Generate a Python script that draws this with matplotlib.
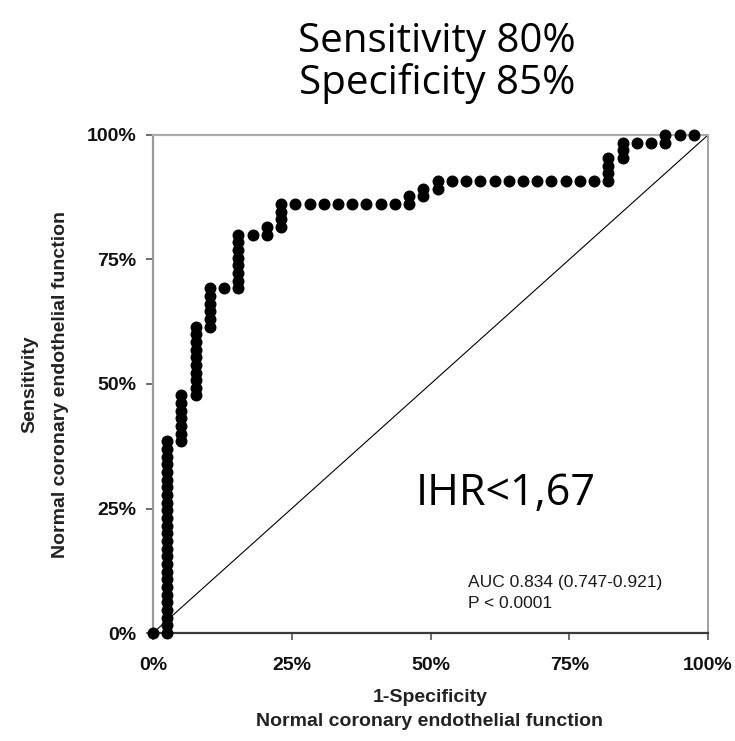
import matplotlib
matplotlib.use("Agg")
import matplotlib.pyplot as plt
import numpy as np

# ---- data (counts) ----
N_NEG = 39   # negatives (false-positive steps)
N_POS = 65   # positives (true-positive steps)

fp_count = [0,
            1, 1, 1, 1, 1, 1, 1, 1, 1, 1, 1, 1, 1, 1, 1, 1, 1, 1, 1, 1, 1, 1, 1, 1, 1, 1,
            2, 2, 2, 2, 2, 2, 2,
            3, 3, 3, 3, 3, 3, 3, 3, 3, 3,
            4, 4, 4, 4, 4, 4,
            5,
            6, 6, 6, 6, 6, 6, 6, 6,
            7,
            8, 8,
            9, 9, 9, 9,
            10, 11, 12, 13, 14, 15, 16, 17,
            18, 18,
            19, 19,
            20, 20,
            21, 22, 23, 24, 25, 26, 27, 28, 29, 30, 31,
            32, 32, 32, 32,
            33, 33, 33,
            34, 35,
            36, 36,
            37, 38]

tp_count = [0,
            0, 1, 2, 3, 4, 5, 6, 7, 8, 9, 10, 11, 12, 13, 14, 15, 16, 17, 18, 19, 20, 21, 22, 23, 24, 25,
            25, 26, 27, 28, 29, 30, 31,
            31, 32, 33, 34, 35, 36, 37, 38, 39, 40,
            40, 41, 42, 43, 44, 45,
            45,
            45, 46, 47, 48, 49, 50, 51, 52,
            52,
            52, 53,
            53, 54, 55, 56,
            56, 56, 56, 56, 56, 56, 56, 56,
            56, 57,
            57, 58,
            58, 59,
            59, 59, 59, 59, 59, 59, 59, 59, 59, 59, 59,
            59, 60, 61, 62,
            62, 63, 64,
            64, 64,
            64, 65,
            65, 65]

x_ticks = [0, 25, 50, 75, 100]
x_ticklabels = ["0%", "25%", "50%", "75%", "100%"]
y_ticks = [0, 25, 50, 75, 100]
y_ticklabels = ["0%", "25%", "50%", "75%", "100%"]

title_lines = ["Sensitivity 80%", "Specificity 85%"]
cutoff_text = "IHR<1,67"
auc_text = "AUC 0.834 (0.747-0.921)"
p_text = "P < 0.0001"

fpr = np.array(fp_count) / N_NEG * 100
tpr = np.array(tp_count) / N_POS * 100

# ---- figure ----
W, H = 735, 741
fig = plt.figure(figsize=(W / 100, H / 100), dpi=100)
ax = fig.add_axes([153 / W, 1 - 633 / H, (708 - 153) / W, (633 - 135) / H])

ax.plot([0, 100], [0, 100], color="black", lw=0.8, zorder=2)
ax.plot(fpr, tpr, linestyle="none", marker="o", markersize=7.6,
        color="black", clip_on=False, zorder=3)

ax.set_xlim(0, 100)
ax.set_ylim(0, 100)

ax.spines["left"].set_color("#9a9a9a")
ax.spines["left"].set_linewidth(1.6)
ax.spines["top"].set_color("#ababab")
ax.spines["top"].set_linewidth(1.6)
ax.spines["right"].set_color("#9a9a9a")
ax.spines["right"].set_linewidth(1.3)
ax.spines["bottom"].set_color("#3a3a3a")
ax.spines["bottom"].set_linewidth(1.6)

tick_font = dict(family=["Liberation Sans", "DejaVu Sans"], weight="bold", size=14)
ax.set_xticks(x_ticks)
ax.set_xticklabels(x_ticklabels, **tick_font)
ax.set_yticks(y_ticks)
ax.set_yticklabels(y_ticklabels, **tick_font)
ax.tick_params(axis="x", direction="out", length=5, width=1.2, color="#555555",
               pad=12, labelcolor="#111111")
ax.tick_params(axis="y", direction="out", length=5, width=1.2, color="#555555",
               pad=7, labelcolor="#111111")

lab_font = dict(family=["Liberation Sans", "DejaVu Sans"], weight="bold", size=14,
                color="#222222")
fig.text(30 / W, 1 - 384 / H, "Sensitivity", rotation=90, ha="center", va="center", **lab_font)
fig.text(61 / W, 1 - 384 / H, "Normal coronary endothelial function", rotation=90,
         ha="center", va="center", **lab_font)
fig.text(430 / W, 1 - 697 / H, "1-Specificity", ha="center", va="center", **lab_font)
fig.text(430 / W, 1 - 721 / H, "Normal coronary endothelial function", ha="center",
         va="center", **lab_font)

big_font = dict(family=["Open Sans", "DejaVu Sans"], size=29, color="black")
fig.text(437 / W, 1 - 52 / H, title_lines[0], ha="center", va="baseline", **big_font)
fig.text(437 / W, 1 - 94 / H, title_lines[1], ha="center", va="baseline", **big_font)
cut_font = dict(big_font, size=31)
fig.text(416 / W, 1 - 505 / H, cutoff_text, ha="left", va="baseline", **cut_font)

small_font = dict(family=["Liberation Sans", "DejaVu Sans"], size=12.5, color="#1a1a1a")
fig.text(468 / W, 1 - 582 / H, auc_text, ha="left", va="center", **small_font)
fig.text(468 / W, 1 - 604 / H, p_text, ha="left", va="center", **small_font)

fig.savefig("out.png", dpi=100)
